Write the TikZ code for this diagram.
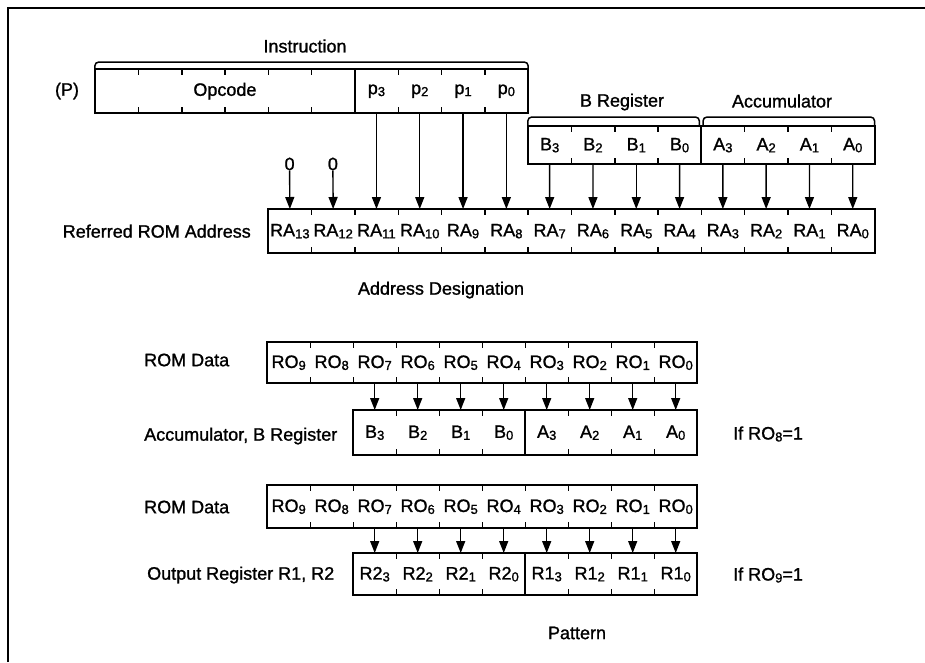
\documentclass[tikz,border=0pt]{standalone}
\usepackage{fontspec}
\setmainfont{Liberation Sans}[FakeBold=1.2]
\usetikzlibrary{calc,arrows.meta,positioning}

\newcommand{\lo}[1]{\raisebox{-0.2ex}{\fontsize{13}{13}\selectfont #1}}

\begin{document}
\begin{tikzpicture}[
  x=1pt, y=-1pt,
  cell/.style={anchor=north west, inner sep=0pt, minimum width=43.3pt,
    minimum height=44pt, font=\fontsize{18}{20}\selectfont},
  lcell/.style={cell, minimum width=43pt},
  regbox/.style={line width=2pt},
  tick/.style={line width=1.5pt},
  brace/.style={line width=1.5pt, rounded corners=4pt},
  arr/.style={line width=1.4pt, -{Triangle[length=12pt,width=9pt]}},
  lbl/.style={inner sep=0pt, font=\fontsize{18}{20}\selectfont},
  frame/.style={line width=2.2pt}
]
  \useasboundingbox (0,0) rectangle (925,662);
  \draw[frame] (8,662) -- (8,8) -- (925,8);

  % Instruction
  \foreach \i in {1,...,6}
    \node[cell] (oc\i) at ({94.8+43.3*(\i-1)},69) {};
  \foreach \n [count=\i from 0] in {3,2,1,0}
    \node[cell] (p\n) at ({354.6+43.3*\i},69) {p\lo{\n}};
  \node[lbl] (opcode) at ($(oc3.east)!0.5!(oc4.west)$) {Opcode};
  \draw[regbox] (oc1.north west) rectangle (p0.south east);
  \draw[regbox] (oc6.north east) -- (oc6.south east);
  \foreach \c in {oc1,oc2,oc3,oc4,oc5,p3,p2,p1}
    \draw[tick] (\c.north east) -- ++(0,6) (\c.south east) -- ++(0,-6);
  \draw[brace] (oc1.north west) -- ++(0,-7) -| (p0.north east);
  \node[lbl] (instr) at (305,46) {Instruction};
  \node[lbl] (pmark) at (67,91) {(P)};

  % B register and accumulator
  \foreach \r/\n [count=\i from 0] in {B/3,B/2,B/1,B/0,A/3,A/2,A/1,A/0}
    \node[cell, minimum height=38pt] (\r\n) at ({527.8+43.3*\i},126) {\r\lo{\n}};
  \draw[regbox] (B3.north west) rectangle (A0.south east);
  \draw[regbox] (B0.north east) -- (B0.south east);
  \foreach \c in {B3,B2,B1,A3,A2,A1}
    \draw[tick] (\c.north east) -- ++(0,6) (\c.south east) -- ++(0,-6);
  \draw[brace] (B3.north west) -- ++(0,-9) -| ([xshift=-2pt]B0.north east);
  \draw[brace] ([xshift=2pt]A3.north west) -- ++(0,-9) -| (A0.north east);
  \node[lbl] (breg) at (622,102) {B Register};
  \node[lbl] (accu) at (782,101) {Accumulator};

  % Referred ROM address
  \foreach \n [count=\i from 0] in {13,12,...,0}
    \node[cell] (ra\n) at ({268+43.3*\i},209) {RA\lo{\n}};
  \draw[regbox] (ra13.north west) rectangle (ra0.south east);
  \foreach \n in {13,12,...,1}
    \draw[tick] (ra\n.north east) -- ++(0,6) (ra\n.south east) -- ++(0,-6);
  \node[lbl, left=17pt of ra13] (ralbl) {Referred ROM Address};
  \node[lbl] (zero13) at (289.6,164) {0};
  \node[lbl] (zero12) at (332.9,164) {0};
  \draw[arr] (zero13.south) -- (ra13.north);
  \draw[arr] (zero12.south) -- (ra12.north);
  \foreach \s/\d in {p3/ra11,p2/ra10,p1/ra9,p0/ra8,B3/ra7,B2/ra6,B1/ra5,B0/ra4,
                     A3/ra3,A2/ra2,A1/ra1,A0/ra0}
    \draw[arr] (\s.south) -- (\d.north);
  \node[lbl] (adrdes) at (441,290) {Address Designation};

  % ROM data to accumulator, B register
  \foreach \n [count=\i from 0] in {9,8,...,0}
    \node[lcell, minimum height=41pt] (ROa\n) at ({267+43*\i},342) {RO\lo{\n}};
  \draw[regbox] (ROa9.north west) rectangle (ROa0.south east);
  \foreach \n in {9,8,...,1}
    \draw[tick] (ROa\n.north east) -- ++(0,6) (ROa\n.south east) -- ++(0,-6);
  \foreach \r/\n [count=\i from 0] in {B/3,B/2,B/1,B/0,A/3,A/2,A/1,A/0}
    \node[lcell, minimum height=45pt] (L\r\n) at ({353+43*\i},410) {\r\lo{\n}};
  \draw[regbox] (LB3.north west) rectangle (LA0.south east);
  \draw[regbox] (LB0.north east) -- (LB0.south east);
  \foreach \c in {LB3,LB2,LB1,LA3,LA2,LA1}
    \draw[tick] (\c.north east) -- ++(0,6) (\c.south east) -- ++(0,-6);
  \foreach \s/\d in {7/LB3,6/LB2,5/LB1,4/LB0,3/LA3,2/LA2,1/LA1,0/LA0}
    \draw[arr] (ROa\s.south) -- (\d.north);
  \node[lbl, anchor=west] (romlbla) at (144,360) {ROM Data};
  \node[lbl, anchor=west] (acclbl) at (144,436) {Accumulator, B Register};
  \node[lbl, anchor=west] (ifeight) at (733,434) {If RO\lo{8}=1};

  % ROM data to output register
  \foreach \n [count=\i from 0] in {9,8,...,0}
    \node[lcell, minimum height=43pt] (ROb\n) at ({267+43*\i},485) {RO\lo{\n}};
  \draw[regbox] (ROb9.north west) rectangle (ROb0.south east);
  \foreach \n in {9,8,...,1}
    \draw[tick] (ROb\n.north east) -- ++(0,6) (ROb\n.south east) -- ++(0,-6);
  \foreach \r/\n [count=\i from 0] in {2/3,2/2,2/1,2/0,1/3,1/2,1/1,1/0}
    \node[lcell, minimum height=42pt] (R\r\n) at ({353+43*\i},553) {R\r\lo{\n}};
  \draw[regbox] (R23.north west) rectangle (R10.south east);
  \draw[regbox] (R20.north east) -- (R20.south east);
  \foreach \c in {R23,R22,R21,R13,R12,R11}
    \draw[tick] (\c.north east) -- ++(0,6) (\c.south east) -- ++(0,-6);
  \foreach \s/\d in {7/R23,6/R22,5/R21,4/R20,3/R13,2/R12,1/R11,0/R10}
    \draw[arr] (ROb\s.south) -- (\d.north);
  \node[lbl, anchor=west] (romlblb) at (144,507) {ROM Data};
  \node[lbl, anchor=west] (outlbl) at (147,575) {Output Register R1, R2};
  \node[lbl, anchor=west] (ifnine) at (733,575) {If RO\lo{9}=1};
  \node[lbl] (pattern) at (577,633) {Pattern};
\end{tikzpicture}
\end{document}
